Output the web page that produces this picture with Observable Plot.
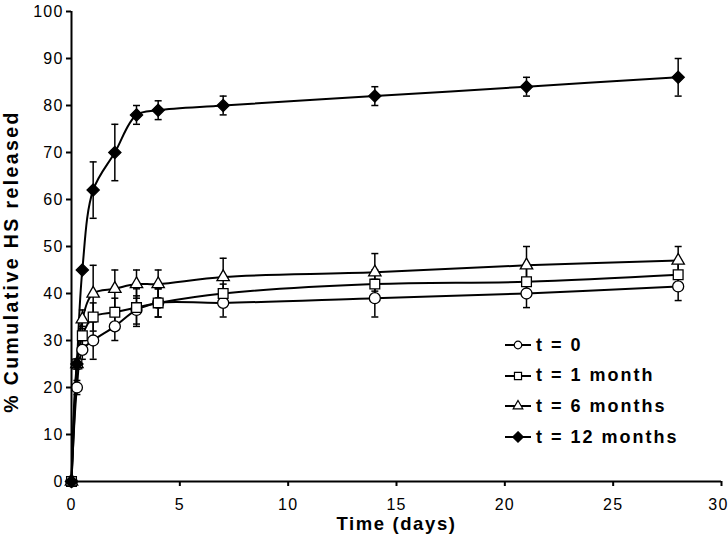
<!DOCTYPE html>
<html>
<head>
<meta charset="utf-8">
<script src="https://cdn.jsdelivr.net/npm/d3@7"></script>
<script src="https://cdn.jsdelivr.net/npm/@observablehq/plot@0.6"></script>
<style>
  html, body { margin: 0; padding: 0; background: #fff; }
  #wrap { position: relative; width: 728px; height: 554px; }
  #wrap svg { display: block; }
  [aria-label$="axis tick"] { stroke-width: 2px; }
  g[aria-label="x-axis"] line, g[aria-label="y-axis"] line { stroke-width: 2px; }
  #legend { position: absolute; left: 504px; top: 330px; font-family: "Liberation Sans", Arial, sans-serif;
            font-weight: bold; font-size: 18px; letter-spacing: 2px; color: #000; }
  #legend .row { display: flex; align-items: center; height: 30.6px; }
  #legend svg { margin-right: 4px; }
</style>
</head>
<body>
<div id="wrap"></div>
<script>
// ---- data ----
const days = [0, 0.25, 0.5, 1, 2, 3, 4, 7, 14, 21, 28];
const seriesNames = ["t = 0", "t = 1 month", "t = 6 months", "t = 12 months"];
const t0Values  = [0, 20, 28, 30, 33, 36.5, 38, 38, 39, 40, 41.5];
const t0Errors  = [0, 1.5, 2, 4, 3, 3, 3, 3, 4, 3, 3];
const t1Values  = [0, 25, 31, 35, 36, 37, 38, 40, 42, 42.5, 44];
const t1Errors  = [0, 1, 2, 3, 3, 4, 3, 2, 3, 3, 3];
const t6Values  = [0, 25, 34.5, 40, 41, 42, 42, 43.5, 44.5, 46, 47];
const t6Errors  = [0, 1, 2, 6, 4, 3, 3, 4, 4, 4, 3];
const t12Values = [0, 25, 45, 62, 70, 78, 79, 80, 82, 84, 86];
const t12Errors = [0, 1, 0, 6, 6, 2, 2, 2, 2, 2, 4];
const xTicks = [0, 5, 10, 15, 20, 25, 30];
const yTicks = [0, 10, 20, 30, 40, 50, 60, 70, 80, 90, 100];
const xLabel = "Time (days)";
const yLabel = "% Cumulative HS released";

// ---- build table ----
const valueSets = [t0Values, t1Values, t6Values, t12Values];
const errorSets = [t0Errors, t1Errors, t6Errors, t12Errors];
const symbols = ["circle", "square", "triangle", "diamond2"];
const radii = [5.5, 5.5, 4.6, 5.5];
const fills = ["white", "white", "white", "black"];
const data = seriesNames.map((name, i) =>
  days.map((d, j) => ({series: name, day: d, value: valueSets[i][j], err: errorSets[i][j]}))
);
const allRows = data.flat().filter(d => d.err > 0);
const lastX = xTicks[xTicks.length - 1];

const capSymbol = {
  draw(context, size) {
    const w = 3.5;
    context.moveTo(-w, 0);
    context.lineTo(w, 0);
  }
};

const marks = [
  Plot.ruleX(allRows, {x: "day", y1: d => d.value - d.err, y2: d => d.value + d.err, stroke: "black", strokeWidth: 1.5}),
  Plot.dot(allRows, {x: "day", y: d => d.value + d.err, symbol: capSymbol, r: 4, stroke: "black", strokeWidth: 1.5, fill: "none"}),
  Plot.dot(allRows, {x: "day", y: d => d.value - d.err, symbol: capSymbol, r: 4, stroke: "black", strokeWidth: 1.5, fill: "none"}),
];
data.forEach((rows) => {
  marks.push(Plot.line(rows, {x: "day", y: "value", stroke: "black", strokeWidth: 2, curve: "catmull-rom"}));
});
data.forEach((rows, i) => {
  marks.push(Plot.dot(rows, {x: "day", y: "value", symbol: symbols[i], r: radii[i], fill: fills[i], stroke: "black", strokeWidth: 1.3}));
});
marks.push(Plot.ruleX([0], {stroke: "black", strokeWidth: 2}));
marks.push(Plot.ruleY([0], {stroke: "black", strokeWidth: 2}));
// last x tick label kept inside the page
marks.push(Plot.text([lastX], {x: d => d, frameAnchor: "bottom", textAnchor: "end", lineAnchor: "top", dx: 7, dy: 17, fontSize: 16}));
marks.push(Plot.text([yLabel], {frameAnchor: "left", rotate: -90, dx: -60, dy: 15, fontSize: 19.5, fontWeight: "bold", textAnchor: "middle", lineAnchor: "middle"}));
marks.push(Plot.text([xLabel], {frameAnchor: "bottom", dy: 43, fontSize: 18.5, fontWeight: "bold", textAnchor: "middle", lineAnchor: "middle"}));

const chart = Plot.plot({
  width: 728,
  height: 554,
  marginLeft: 71,
  marginRight: 7,
  marginTop: 11,
  marginBottom: 73,
  x: {domain: [0, 30], ticks: xTicks, tickSize: 5, tickPadding: 12, tickFormat: d => d === lastX ? "" : String(d), label: null},
  y: {domain: [0, 100], ticks: yTicks, tickSize: 5, tickPadding: 3, label: null},
  style: {fontFamily: "'Liberation Sans', Arial, sans-serif", fontSize: "16px", letterSpacing: "1.2px", background: "white", color: "black"},
  marks
});
d3.select(chart).selectAll("text")
  .filter(function () { return this.textContent === yLabel; })
  .style("letter-spacing", "2.4px");
d3.select(chart).selectAll("text")
  .filter(function () { return this.textContent === xLabel; })
  .style("letter-spacing", "1.6px");
const wrap = document.getElementById("wrap");
wrap.appendChild(chart);

// ---- legend ----
const legend = document.createElement("div");
legend.id = "legend";
seriesNames.forEach((name, i) => {
  const row = document.createElement("div");
  row.className = "row";
  const sym = d3.create("svg").attr("width", 28).attr("height", 14);
  sym.append("line").attr("x1", 1).attr("x2", 27).attr("y1", 7).attr("y2", 7).attr("stroke", "black").attr("stroke-width", 2);
  const symType = [d3.symbolCircle, d3.symbolSquare, d3.symbolTriangle, d3.symbolDiamond2][i];
  const size = [45, 50, 40, 70][i];
  sym.append("path").attr("d", d3.symbol(symType, size)()).attr("transform", "translate(14,7)")
    .attr("fill", fills[i]).attr("stroke", "black").attr("stroke-width", 1.2);
  row.appendChild(sym.node());
  const span = document.createElement("span");
  span.textContent = name;
  row.appendChild(span);
  legend.appendChild(row);
});
wrap.appendChild(legend);
</script>
</body>
</html>
